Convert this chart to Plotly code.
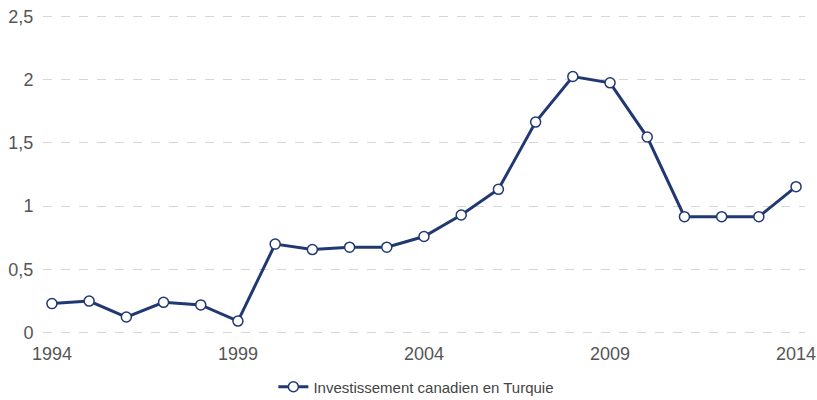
import plotly.graph_objects as go

years = list(range(1994, 2015))
values = [0.23, 0.25, 0.124, 0.24, 0.22, 0.092, 0.70, 0.657, 0.676, 0.676, 0.76,
          0.93, 1.133, 1.664, 2.024, 1.974, 1.546, 0.917, 0.917, 0.917, 1.154]
series_name = "Investissement canadien en Turquie"
x_ticks = [1994, 1999, 2004, 2009, 2014]
y_ticks = [0, 0.5, 1, 1.5, 2, 2.5]

color = "#213873"

fig = go.Figure()
fig.add_trace(go.Scatter(
    x=years, y=values, name=series_name, mode="lines+markers",
    line=dict(color=color, width=3),
    marker=dict(size=10, color="white", line=dict(color=color, width=1.5)),
    showlegend=True,
))

fig.update_layout(
    width=817, height=400,
    margin=dict(l=43, r=12, t=15, b=66, autoexpand=False),
    paper_bgcolor="white", plot_bgcolor="white",
    separators=", ",
    font=dict(family="Liberation Sans, Arial, sans-serif", color="#555555"),
    xaxis=dict(range=[1993.76, 2014.24], tickvals=x_ticks, showgrid=False,
               zeroline=False, showline=False, ticks="outside", ticklen=3,
               tickcolor="rgba(0,0,0,0)", automargin=False,
               tickfont=dict(size=18, color="#555555")),
    yaxis=dict(range=[-0.01, 2.51], tickvals=y_ticks, showgrid=True,
               gridcolor="#d6d6d6", griddash="dash", gridwidth=1,
               zeroline=False, showline=False, ticks="outside", ticklen=5,
               tickcolor="rgba(0,0,0,0)", automargin=False,
               tickfont=dict(size=18, color="#555555")),
    legend=dict(orientation="h", x=0.49, xanchor="center", y=-0.166, yanchor="middle",
                font=dict(size=15, color="#444444"), itemwidth=30),
)

fig.write_html("out.html", config={"displayModeBar": False},
               post_script="document.body.style.margin='0';document.body.style.overflow='hidden';")
